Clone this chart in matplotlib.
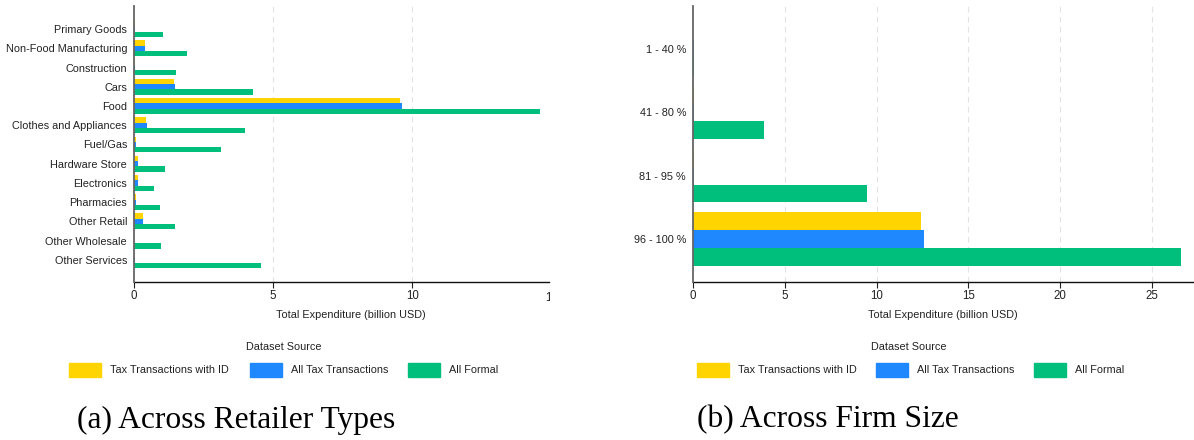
import numpy as np
import matplotlib
matplotlib.use('Agg')
import matplotlib.pyplot as plt
from matplotlib.patches import Rectangle
from matplotlib.transforms import Bbox, TransformedBbox

# data (billion USD)
retailers = ['Primary Goods', 'Non-Food Manufacturing', 'Construction', 'Cars', 'Food',
             'Clothes and Appliances', 'Fuel/Gas', 'Hardware Store', 'Electronics',
             'Pharmacies', 'Other Retail', 'Other Wholesale', 'Other Services']
ret_tax_id = [0.02, 0.38, 0.02, 1.44, 9.55, 0.44, 0.08, 0.14, 0.14, 0.08, 0.32, 0.01, 0.01]
ret_tax_all = [0.02, 0.38, 0.02, 1.47, 9.63, 0.47, 0.08, 0.14, 0.14, 0.08, 0.32, 0.01, 0.02]
ret_formal = [1.03, 1.90, 1.50, 4.27, 14.58, 4.00, 3.13, 1.12, 0.72, 0.94, 1.47, 0.97, 4.56]

sizes = ['1 - 40 %', '41 - 80 %', '81 - 95 %', '96 - 100 %']
size_tax_id = [0.01, 0.04, 0.04, 12.44]
size_tax_all = [0.04, 0.04, 0.04, 12.60]
size_formal = [0.05, 3.88, 9.50, 26.57]

series_names = ['Tax Transactions with ID', 'All Tax Transactions', 'All Formal']
colors = ['#FFD400', '#1F88FF', '#00BF7D']

W, H = 1194, 440
plt.rcParams['font.family'] = ['Liberation Sans', 'DejaVu Sans']
plt.rcParams['font.size'] = 7.8
fig = plt.figure(figsize=(W / 100, H / 100), dpi=100)


def px_axes(x0, x1, y0, y1):
    # pixel box (top-left origin) -> figure axes
    return fig.add_axes([x0 / W, 1 - y1 / H, (x1 - x0) / W, (y1 - y0) / H])


def draw_panel(ax, cats, vals, h, xmax, ticks, ylim):
    pos = np.arange(len(cats))
    for k, v in enumerate(vals):
        ax.barh(pos + (k - 1) * h, v, height=h, color=colors[k], edgecolor='none', zorder=3)
    ax.set_xlim(0, xmax)
    ax.set_ylim(*ylim)
    ax.set_yticks(pos)
    ax.set_yticklabels(cats, color='#222222')
    ax.set_xticks(ticks)
    ax.tick_params(axis='y', length=0, pad=5)
    ax.tick_params(axis='x', length=4, width=0.8, color='#222222', labelcolor='#222222',
                   labelsize=8.3, pad=2)
    for t in ticks[1:]:
        ax.axvline(t, color='#e3e3e3', lw=0.8, ls=(0, (5, 4)), zorder=1)
    ax.spines['top'].set_visible(False)
    ax.spines['right'].set_visible(False)
    ax.spines['left'].set_color('#666666')
    ax.spines['left'].set_linewidth(1.3)
    ax.spines['left'].set_zorder(4)
    ax.spines['bottom'].set_color('#111111')
    ax.spines['bottom'].set_linewidth(1.0)


def draw_legend(cx, xs):
    fig.text(cx / W, 1 - 347 / H, 'Dataset Source', ha='center', va='center', color='#222222')
    for x, name, c in zip(xs, series_names, colors):
        fig.patches.append(Rectangle((x / W, 1 - 377 / H), 32 / W, 14 / H,
                                     transform=fig.transFigure, color=c, figure=fig))
        fig.text((x + 41) / W, 1 - 370 / H, name, ha='left', va='center', color='#222222')


# (a) retailer types
ax1 = px_axes(134, 549, 6, 282)
draw_panel(ax1, retailers, [ret_tax_id, ret_tax_all, ret_formal], 0.275, 14.92,
           [0, 5, 10], (12 + 1.15, -1.2))
t15 = ax1.text(15, -0.035, '15', transform=ax1.get_xaxis_transform(), ha='center', va='top',
               color='#222222', fontsize=8.3)
t15.set_clip_box(TransformedBbox(Bbox.from_extents(0, 0, 549.5 / W, 1), fig.transFigure))
t15.set_clip_on(True)
fig.text(351 / W, 1 - 315 / H, 'Total Expenditure (billion USD)', ha='center', va='center',
         color='#222222')
draw_legend(284, [69, 250, 408])
fig.text(77 / W, 1 - 420 / H, '(a) Across Retailer Types', ha='left', va='center',
         family='Liberation Serif', fontsize=22.7)

# (b) firm size
ax2 = px_axes(693, 1194, 6, 282)
draw_panel(ax2, sizes, [size_tax_id, size_tax_all, size_formal], 0.28, 27.3,
           [0, 5, 10, 15, 20, 25], (3 + 0.68, -0.68))
fig.text(943 / W, 1 - 315 / H, 'Total Expenditure (billion USD)', ha='center', va='center',
         color='#222222')
draw_legend(909, [697, 876, 1034])
fig.text(697 / W, 1 - 420 / H, '(b) Across Firm Size', ha='left', va='center',
         family='Liberation Serif', fontsize=22.7)

fig.savefig('out.png', dpi=100)
